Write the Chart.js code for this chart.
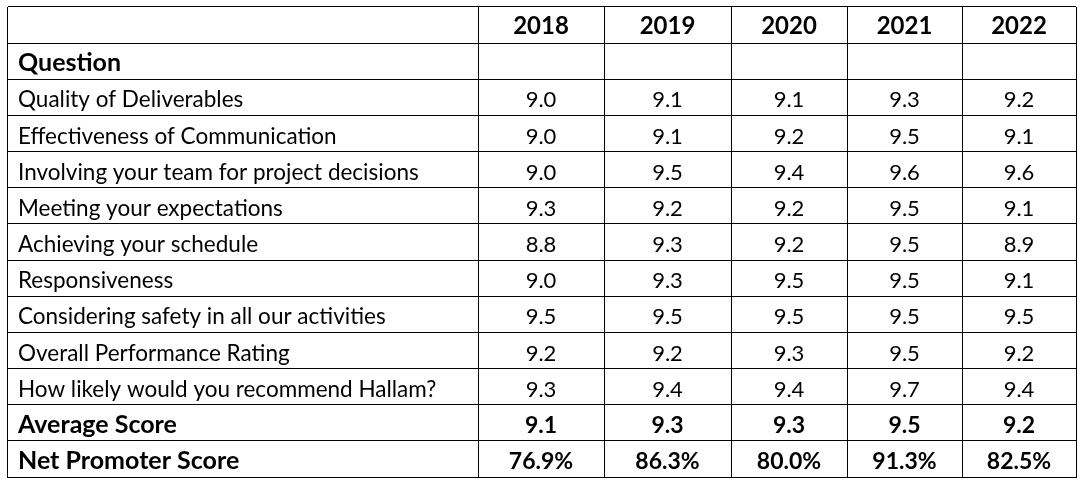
<!DOCTYPE html>
<html>
<head>
<meta charset="utf-8">
<script src="https://cdn.jsdelivr.net/npm/chart.js@4.4.1/dist/chart.umd.min.js"></script>
<style>
  html, body { margin: 0; padding: 0; background: #fff; }
  #wrap { width: 1082px; height: 490px; position: relative; }
</style>
</head>
<body>
<div id="wrap"><canvas id="table"></canvas></div>
<script>
// Survey results by year
const years = ['2018', '2019', '2020', '2021', '2022'];
const questions = [
  'Quality of Deliverables',
  'Effectiveness of Communication',
  'Involving your team for project decisions',
  'Meeting your expectations',
  'Achieving your schedule',
  'Responsiveness',
  'Considering safety in all our activities',
  'Overall Performance Rating',
  'How likely would you recommend Hallam?'
];
const scores2018 = [9.0, 9.0, 9.0, 9.3, 8.8, 9.0, 9.5, 9.2, 9.3];
const scores2019 = [9.1, 9.1, 9.5, 9.2, 9.3, 9.3, 9.5, 9.2, 9.4];
const scores2020 = [9.1, 9.2, 9.4, 9.2, 9.2, 9.5, 9.5, 9.3, 9.4];
const scores2021 = [9.3, 9.5, 9.6, 9.5, 9.5, 9.5, 9.5, 9.5, 9.7];
const scores2022 = [9.2, 9.1, 9.6, 9.1, 8.9, 9.1, 9.5, 9.2, 9.4];
const averageScore = [9.1, 9.3, 9.3, 9.5, 9.2];
const netPromoter = [76.9, 86.3, 80.0, 91.3, 82.5];

const scoresByYear = [scores2018, scores2019, scores2020, scores2021, scores2022];
const rowLabels = ['', 'Question', ...questions, 'Average Score', 'Net Promoter Score'];
const boldRows = ['Question', 'Average Score', 'Net Promoter Score'];

// column edges, px from the table's left border (layout only)
const colEdges = [0, 471, 597, 724, 840, 955, 1069];
const colMid = j => (colEdges[j + 1] + colEdges[j + 2]) / 2;

const FONT = 'Lato, "Noto Sans", sans-serif';
// label text runs wider than the numbers in the original, so sizes differ a bit
const labelFont = bold => bold ? 'bold 25px ' + FONT : '22.5px ' + FONT;
const numFont = bold => bold ? 'bold 23px ' + FONT : '22px ' + FONT;

const datasets = years.map((yr, j) => ({
  label: yr,
  data: [
    ...questions.map((q, k) => ({ x: colMid(j), y: q, v: scoresByYear[j][k] })),
    { x: colMid(j), y: 'Average Score', v: averageScore[j] },
    { x: colMid(j), y: 'Net Promoter Score', v: netPromoter[j], pct: true }
  ],
  pointRadius: 0,
  pointHoverRadius: 0,
  showLine: false
}));

// draws the text of every cell
const cellText = {
  id: 'cellText',
  afterDatasetsDraw(chart) {
    const { ctx, scales: { x, y } } = chart;
    const rowH = Math.abs(y.getPixelForValue(1) - y.getPixelForValue(0));
    const drop = rowH / 2 - 8;
    ctx.save();
    ctx.fillStyle = '#000';
    ctx.textBaseline = 'alphabetic';

    ctx.textAlign = 'left';
    rowLabels.forEach((lab, i) => {
      if (!lab) return;
      ctx.font = labelFont(boldRows.includes(lab));
      ctx.fillText(lab, x.getPixelForValue(colEdges[0]) + 11, y.getPixelForValue(i) + drop);
    });

    ctx.textAlign = 'center';
    ctx.font = 'bold 24px ' + FONT;
    years.forEach((yr, j) => {
      ctx.fillText(yr, x.getPixelForValue(colMid(j)), y.getPixelForValue(0) + drop - 1);
    });

    chart.data.datasets.forEach((ds, j) => {
      chart.getDatasetMeta(j).data.forEach((pt, k) => {
        const raw = ds.data[k];
        ctx.font = numFont(boldRows.includes(raw.y));
        const txt = raw.v.toFixed(1) + (raw.pct ? '%' : '');
        ctx.fillText(txt, pt.x, pt.y + drop);
      });
    });
    ctx.restore();
  }
};

new Chart(document.getElementById('table'), {
  type: 'scatter',
  data: { datasets },
  options: {
    responsive: true,
    maintainAspectRatio: false,
    animation: false,
    events: [],
    layout: { padding: { left: 7, top: 7, right: 6, bottom: 13 } },
    plugins: {
      legend: { display: false },
      tooltip: { enabled: false }
    },
    scales: {
      x: {
        type: 'linear',
        min: colEdges[0],
        max: colEdges[colEdges.length - 1],
        afterBuildTicks: s => { s.ticks = colEdges.map(v => ({ value: v })); },
        ticks: { display: false },
        grid: { color: '#000', lineWidth: 1, drawTicks: false },
        border: { color: '#000', width: 1 }
      },
      y: {
        type: 'category',
        labels: rowLabels,
        offset: true,
        ticks: { display: false },
        grid: { offset: true, color: '#000', lineWidth: 1, drawTicks: false },
        border: { color: '#000', width: 1 }
      }
    }
  },
  plugins: [cellText]
});
</script>
</body>
</html>
